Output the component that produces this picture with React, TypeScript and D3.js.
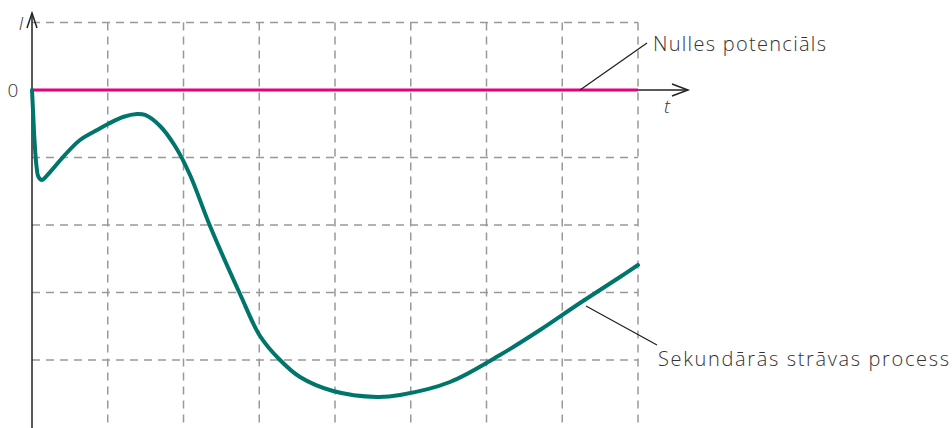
import React from "react";
import * as d3 from "d3";

const tValues = [0, 0.013, 0.033, 0.059, 0.086, 0.132, 0.238, 0.409, 0.634, 0.858, 1.003, 1.201, 1.386, 1.492, 1.69, 1.888, 2.086, 2.35, 2.746, 3.01, 3.274, 3.538, 3.974, 4.554, 4.858, 5.518, 6.178, 6.706, 7.234, 7.762, 8.0];
const iValues = [0, -0.296, -0.741, -1.126, -1.289, -1.333, -1.215, -0.993, -0.741, -0.593, -0.504, -0.4, -0.356, -0.37, -0.533, -0.83, -1.259, -2.015, -3.022, -3.644, -4.0, -4.252, -4.459, -4.548, -4.519, -4.326, -3.926, -3.556, -3.156, -2.77, -2.593];
const xGrid = [1, 2, 3, 4, 5, 6, 7, 8];
const yGrid = [1, -1, -2, -3, -4];
const zeroLabel = "0";
const yAxisLabel = "I";
const xAxisLabel = "t";
const zeroLineLabel = "Nulles potenciāls";
const curveLabel = "Sekundārās strāvas process";

const W = 952;
const H = 428;

export default function App() {
  const x = d3.scaleLinear().domain([0, 8]).range([32, 638]);
  const y = d3.scaleLinear().domain([1, -5]).range([22.5, 427.5]);
  const data = tValues.map((t, i) => [t, iValues[i]] as [number, number]);
  const line = d3
    .line<[number, number]>()
    .x((d) => x(d[0]))
    .y((d) => y(d[1]))
    .curve(d3.curveCatmullRom.alpha(0.5));
  const font = "'Open Sans', 'Noto Sans', sans-serif";
  const grid = "#999999";
  return (
    <svg
      width={W}
      height={H}
      style={{ position: "absolute", left: 0, top: 0, background: "#fff" }}
    >
      {xGrid.map((g) => (
        <line
          key={"vx" + g}
          x1={x(g)}
          x2={x(g)}
          y1={y(1)}
          y2={H}
          stroke={grid}
          strokeWidth={1.5}
          strokeDasharray="8 6"
        />
      ))}
      {yGrid.map((g) => (
        <line
          key={"hy" + g}
          x1={x(0)}
          x2={x(8)}
          y1={y(g)}
          y2={y(g)}
          stroke={grid}
          strokeWidth={1.5}
          strokeDasharray="8 6"
        />
      ))}
      <line x1={x(0)} x2={x(0)} y1={H} y2={13} stroke="#222" strokeWidth={1.5} />
      <polyline
        points={`${x(0) - 5},28 ${x(0)},13 ${x(0) + 5},28`}
        fill="none"
        stroke="#222"
        strokeWidth={1.5}
      />
      <line x1={x(0)} x2={688} y1={y(0)} y2={y(0)} stroke="#222" strokeWidth={1.5} />
      <polyline
        points={`672,${y(0) - 6} 688,${y(0)} 672,${y(0) + 6}`}
        fill="none"
        stroke="#222"
        strokeWidth={1.5}
      />
      <line x1={x(0)} x2={x(8)} y1={y(0)} y2={y(0)} stroke="#e6007e" strokeWidth={3} />
      <path d={line(data) || ""} fill="none" stroke="#00756b" strokeWidth={4} strokeLinejoin="round" strokeLinecap="round" />
      <line x1={580} y1={y(0)} x2={647} y2={43} stroke="#222" strokeWidth={1.3} />
      <line x1={586} y1={306} x2={657} y2={345} stroke="#222" strokeWidth={1.3} />
      <text x={13} y={y(0)} dy="0.35em" textAnchor="middle" fontFamily={font} fontSize={19} fontWeight={300} fill="#333">
        {zeroLabel}
      </text>
      <text x={21} y={30} textAnchor="middle" fontFamily={font} fontSize={18} fontWeight={300} fontStyle="italic" fill="#333">
        {yAxisLabel}
      </text>
      <text x={667} y={113} textAnchor="middle" fontFamily={font} fontSize={19} fontWeight={300} fontStyle="italic" fill="#333">
        {xAxisLabel}
      </text>
      <text x={653} y={51} fontFamily={font} fontSize={20} fontWeight={300} textLength={173} lengthAdjust="spacing" fill="#333">
        {zeroLineLabel}
      </text>
      <text x={658} y={366} fontFamily={font} fontSize={20} fontWeight={300} textLength={291} lengthAdjust="spacing" fill="#333">
        {curveLabel}
      </text>
    </svg>
  );
}
